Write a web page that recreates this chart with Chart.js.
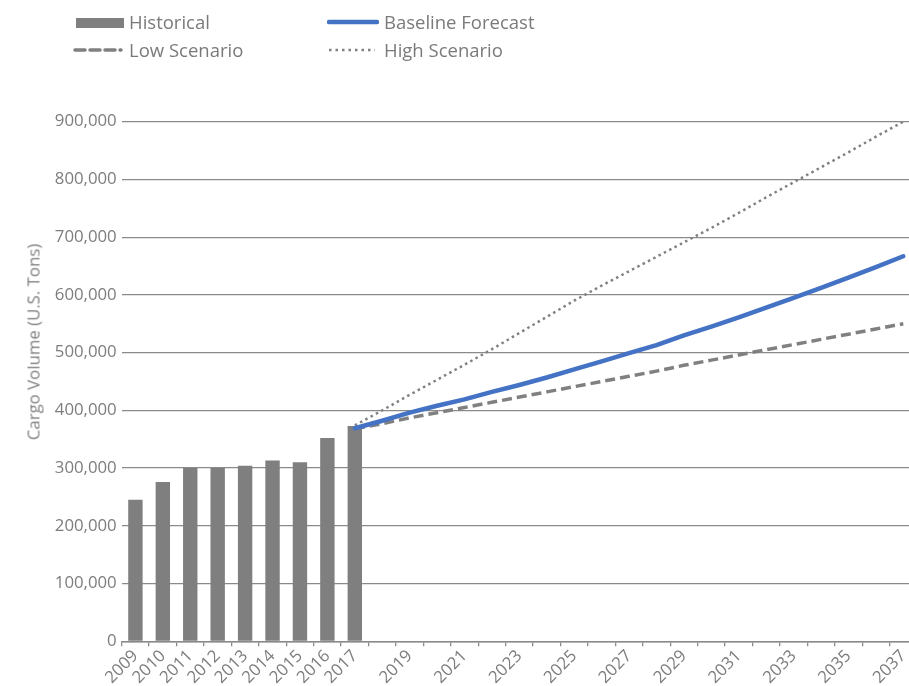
<!DOCTYPE html>
<html>
<head>
<meta charset="utf-8">
<script src="https://cdn.jsdelivr.net/npm/chart.js@4.4.1/dist/chart.umd.min.js"></script>
<style>
  html, body { margin: 0; padding: 0; background: #fff; }
  body { width: 909px; height: 686px; overflow: hidden; position: relative; font-family: "Open Sans", sans-serif; color: #808080; }
  #wrap { position: absolute; left: 0; top: 0; width: 917px; height: 686px; }
  .leg { position: absolute; font-size: 18.5px; line-height: 24px; white-space: nowrap; color: #7a7a7a; }
  .sym { position: absolute; }
  #ytitle { position: absolute; left: 33px; top: 342px; transform: translate(-50%, -50%) rotate(-90deg); font-size: 16.8px; white-space: nowrap; color: #808080; }
</style>
</head>
<body>
<div id="wrap"><canvas id="c" width="917" height="686"></canvas></div>

<svg class="sym" style="left:76px;top:18px" width="48" height="10"><rect x="0" y="0" width="48" height="10" fill="#7f7f7f"/></svg>
<div class="leg" style="left:129px;top:10px">Historical</div>

<svg class="sym" style="left:73px;top:46px" width="50" height="8"><line x1="2" y1="4" x2="48" y2="4" stroke="#808080" stroke-width="3.5" stroke-dasharray="10 5" stroke-linecap="round"/></svg>
<div class="leg" style="left:129px;top:38px">Low Scenario</div>

<svg class="sym" style="left:327px;top:18px" width="52" height="8"><line x1="2" y1="4" x2="50" y2="4" stroke="#4472c4" stroke-width="4.5" stroke-linecap="round"/></svg>
<div class="leg" style="left:384px;top:10px">Baseline Forecast</div>

<svg class="sym" style="left:327px;top:46px" width="50" height="8"><line x1="2" y1="4" x2="48" y2="4" stroke="#808080" stroke-width="2.5" stroke-dasharray="2.5 4"/></svg>
<div class="leg" style="left:384px;top:38px">High Scenario</div>

<div id="ytitle">Cargo Volume (U.S. Tons)</div>

<script>
const years = ['2009','2010','2011','2012','2013','2014','2015','2016','2017','2018','2019','2020','2021','2022','2023','2024','2025','2026','2027','2028','2029','2030','2031','2032','2033','2034','2035','2036','2037'];
const tickLabels = ['2009','2010','2011','2012','2013','2014','2015','2016','2017','','2019','','2021','','2023','','2025','','2027','','2029','','2031','','2033','','2035','','2037'];
const historical = [245000, 276000, 300000, 300000, 304000, 313000, 310000, 352000, 373000, null, null, null, null, null, null, null, null, null, null, null, null, null, null, null, null, null, null, null, null];
const baseline = [null, null, null, null, null, null, null, null, 369000, 382000, 396000, 408000, 419000, 432000, 444000, 457000, 471000, 485000, 499000, 513000, 530000, 545000, 561000, 578000, 595000, 612000, 630000, 648000, 667000];
const lowScenario = [null, null, null, null, null, null, null, null, 368000, 377000, 387000, 396000, 405000, 414000, 423000, 432000, 441000, 450000, 459000, 468000, 478000, 487000, 496000, 505000, 514000, 523000, 532000, 541000, 550000];
const highScenario = [null, null, null, null, null, null, null, null, 374000, 400000, 427000, 453000, 479000, 506000, 534000, 562000, 590000, 616000, 641000, 666000, 691000, 716000, 742000, 769000, 795000, 821000, 847000, 874000, 900000];
const yTicks = [0, 100000, 200000, 300000, 400000, 500000, 600000, 700000, 800000, 900000];

const TXT = '#7d7d7d';
const GRID = '#8a8a8a';
const font = { family: '"Open Sans", sans-serif', size: 16.8 };

new Chart(document.getElementById('c'), {
  type: 'bar',
  data: {
    labels: years,
    datasets: [
      { type: 'line', label: 'Baseline Forecast', data: baseline, borderColor: '#4472c4', borderWidth: 4.5, pointRadius: 0, tension: 0, borderCapStyle: 'round', borderJoinStyle: 'round', order: 0, fill: false },
      { type: 'line', label: 'Low Scenario', data: lowScenario, borderColor: '#808080', borderWidth: 3.5, borderDash: [10, 5], pointRadius: 0, tension: 0, order: 1, fill: false },
      { type: 'line', label: 'High Scenario', data: highScenario, borderColor: '#808080', borderWidth: 2.5, borderDash: [2.5, 3.5], pointRadius: 0, tension: 0, order: 2, fill: false },
      { type: 'bar', label: 'Historical', data: historical, backgroundColor: '#7f7f7f', borderWidth: 0, barPercentage: 0.525, categoryPercentage: 1.0, order: 3 }
    ]
  },
  options: {
    responsive: false,
    animation: false,
    devicePixelRatio: 1,
    layout: { padding: { top: 121.7, right: 0, bottom: 0, left: 0 } },
    plugins: { legend: { display: false }, tooltip: { enabled: false } },
    scales: {
      x: {
        offset: true,
        grid: { offset: true, drawOnChartArea: false, drawTicks: true, tickLength: 5, color: GRID, lineWidth: 1.3 },
        border: { display: true, color: GRID, width: 1.5 },
        ticks: {
          autoSkip: false, maxRotation: 45, minRotation: 45, color: TXT, font: font, padding: 0,
          callback: function (v, i) { return tickLabels[i]; }
        },
        afterFit: function (s) { s.height = 44.7; s.paddingLeft = 0; s.paddingRight = 0; }
      },
      y: {
        min: 0, max: 900000,
        afterBuildTicks: function (s) { s.ticks = yTicks.map(v => ({ value: v })); },
        grid: { drawTicks: false, color: GRID, lineWidth: 1.3 },
        border: { display: false },
        ticks: { color: TXT, font: font, padding: 5, callback: function (v) { return v.toLocaleString('en-US'); } },
        afterFit: function (s) { s.width = 121.7; }
      }
    }
  }
});
</script>
</body>
</html>
